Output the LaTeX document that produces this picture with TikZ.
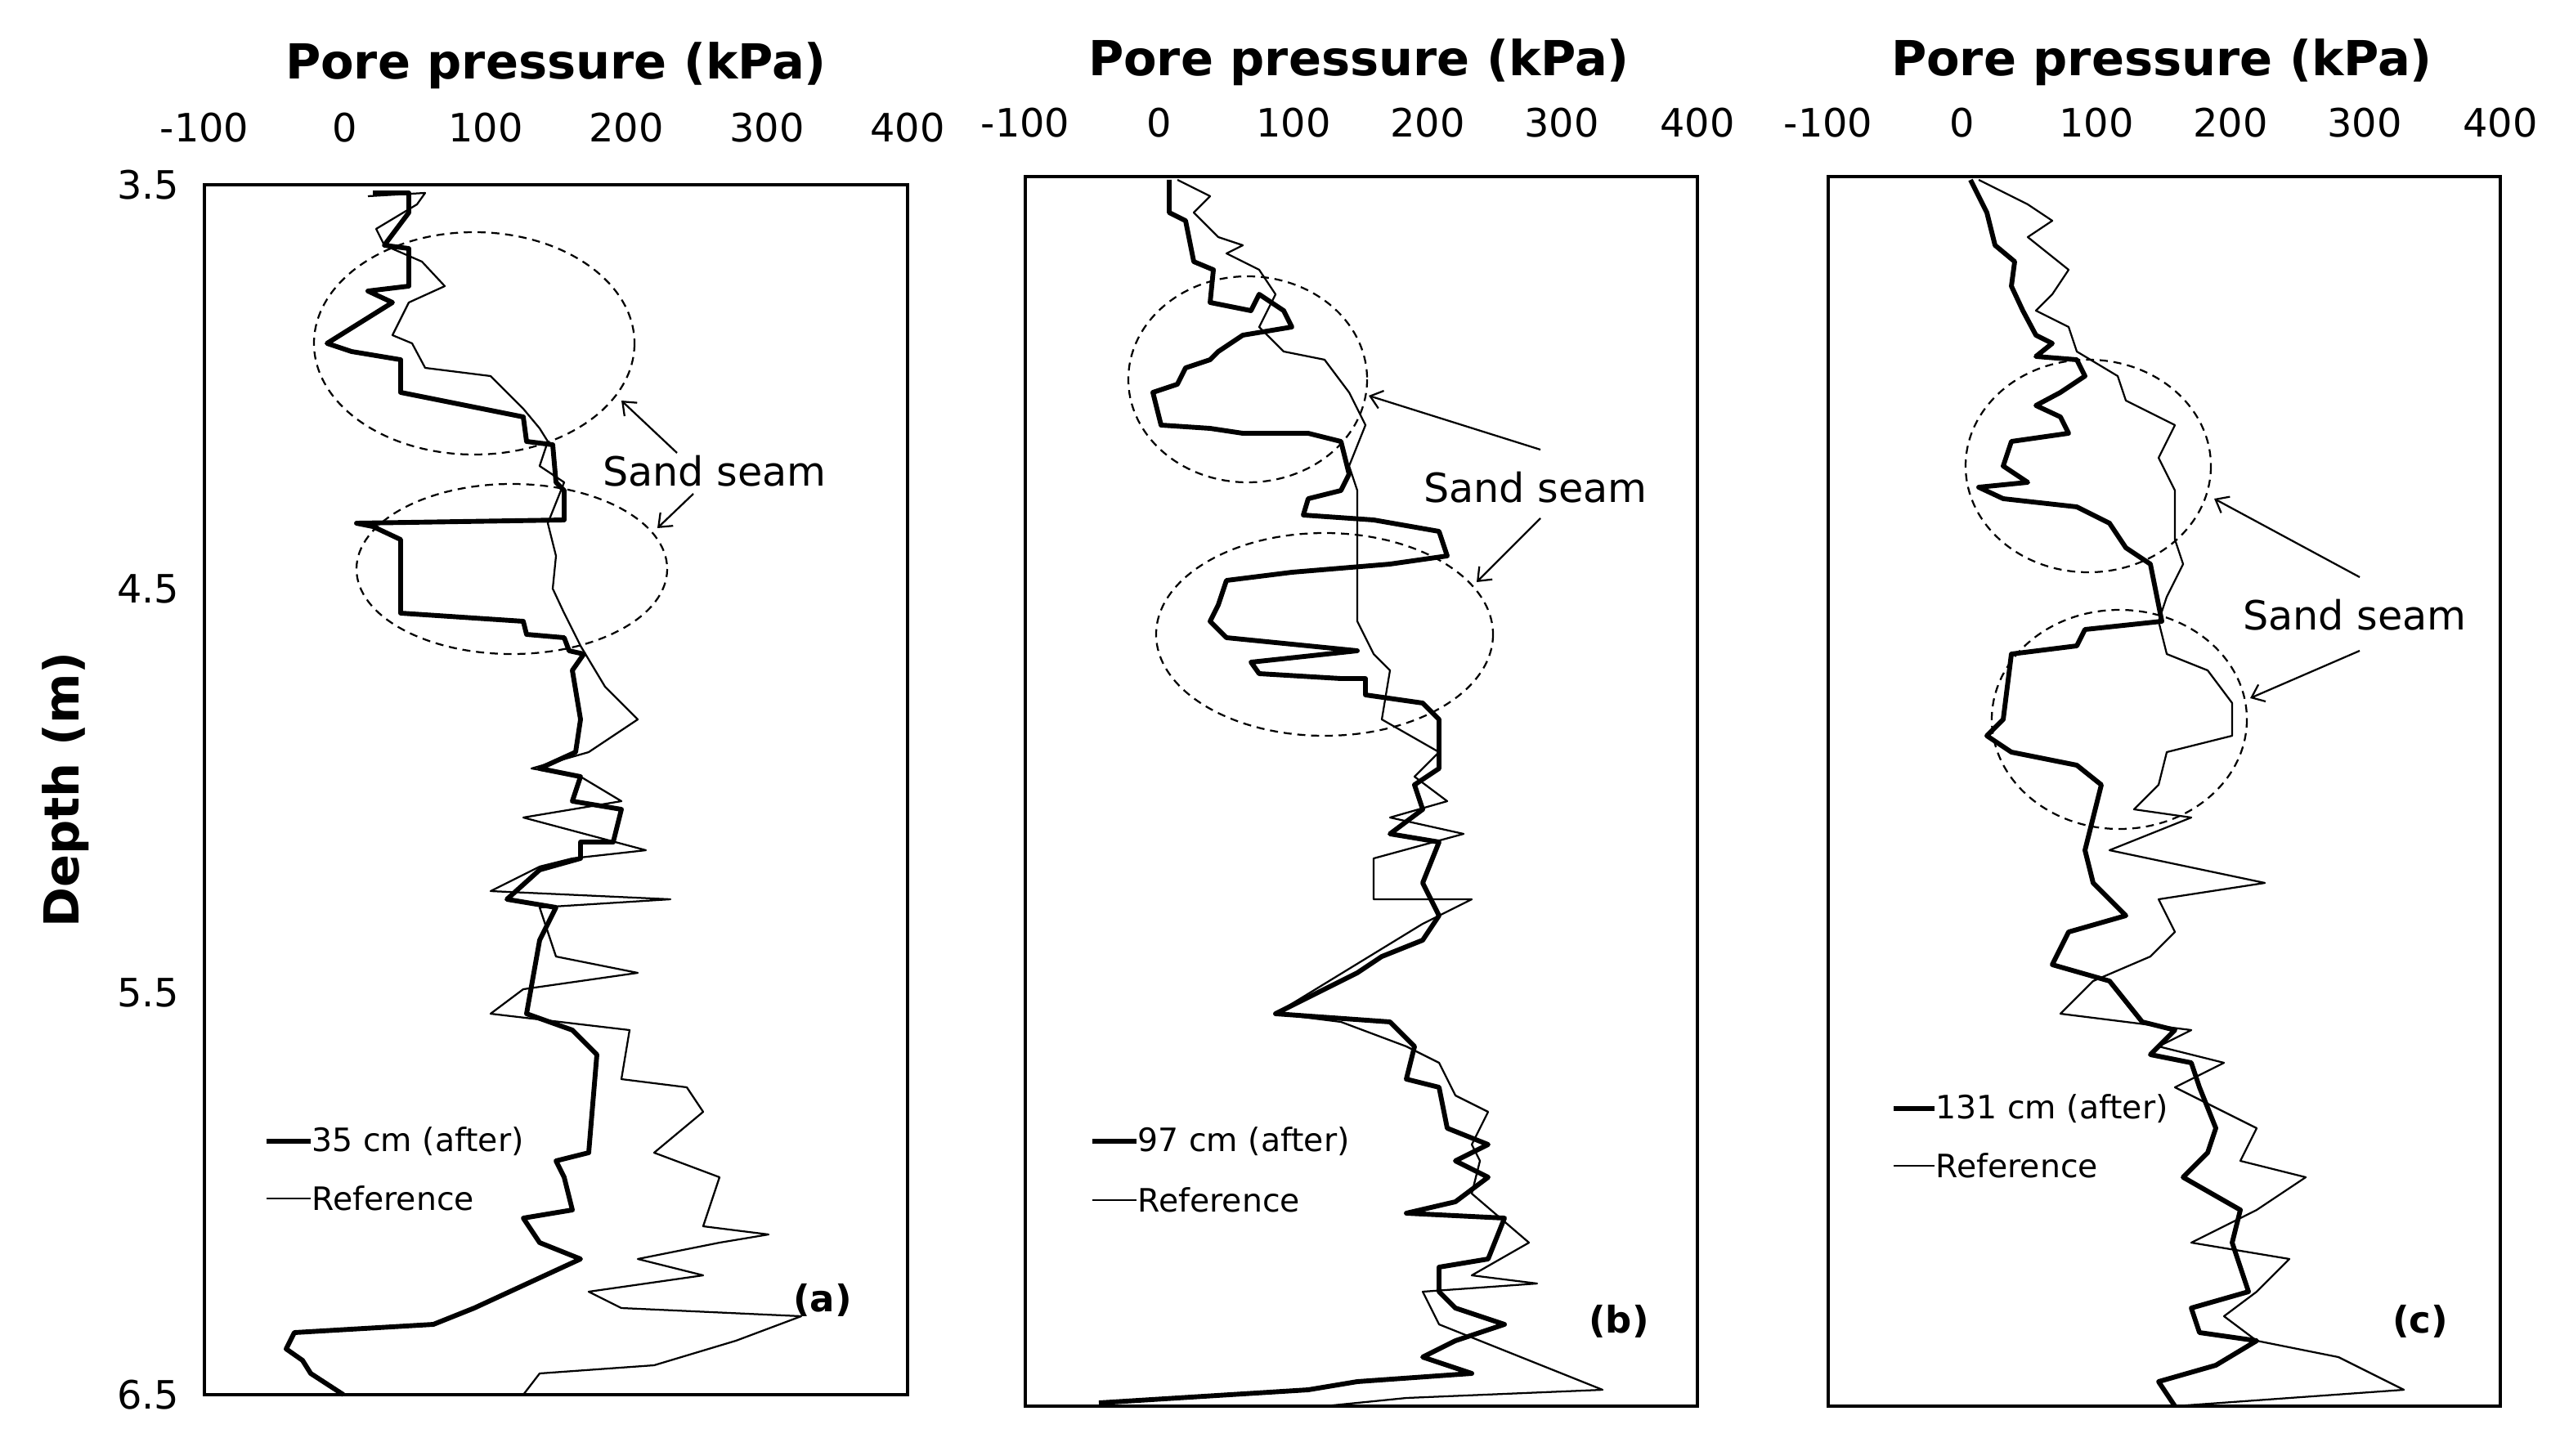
\documentclass[tikz,border=0pt]{standalone}
\usepackage{fontspec}
\setmainfont{DejaVu Sans}
\usetikzlibrary{arrows.meta}
\begin{document}
\begin{tikzpicture}[x=0.05cm,y=-0.05cm,
 thick/.style={line width=4.2pt,line join=round},
 thin/.style={line width=1.6pt,line join=round},
 box/.style={line width=2.6pt},
 seam/.style={line width=1.6pt,dash pattern=on 7pt off 5pt},
 tick/.style={font=\fontsize{34}{36}\selectfont},
 ttl/.style={font=\fontsize{42}{46}\selectfont\bfseries},
 leg/.style={font=\fontsize{28}{30}\selectfont,anchor=west,inner sep=1pt},
 lab/.style={font=\fontsize{35}{38}\selectfont},
 pl/.style={font=\fontsize{32}{34}\selectfont\bfseries},
 arr/.style={-{Straight Barb[length=10pt,width=16pt,line width=1.6pt]},line width=1.6pt}]
\useasboundingbox (0,0) rectangle (1571,890.5);
% ---------- panel a
\draw[box] (125,113) rectangle (555,853);
\node[ttl] (ta) at (340,40) {Pore pressure (kPa)};
\foreach \v/\x in {-100/125,0/211,100/297,200/383,300/469,400/555}
  \node[tick] at (\x,78) {\v};
\foreach \v/\y in {3.5/113,4.5/360,5.5/607,6.5/853}
  \node[tick,anchor=east] at (112,\y) {\v};
\node[ttl,rotate=90] (dep) at (40,483) {Depth (m)};
\draw[thin] (225,120)--(260,118)--(255,125)--(230,140)--(235,150)--(258,160)--(272,175)--(250,185)--(240,205)--(252,210)--(260,225)--(300,230)--(310,240)--(320,250)--(330,262)--(335,270)--(330,285)--(345,295)--(335,320)--(340,340)--(338,360)--(345,375)--(355,395)--(370,420)--(390,440)--(360,460)--(325,470)--(355,475)--(380,490)--(320,500)--(395,520)--(350,525)--(330,530)--(300,545)--(410,550)--(330,555)--(340,585)--(390,595)--(320,605)--(300,620)--(385,630)--(380,660)--(420,665)--(430,680)--(400,705)--(440,720)--(430,750)--(470,755)--(440,760)--(390,770)--(430,780)--(360,790)--(380,800)--(490,805)--(450,820)--(400,835)--(330,840)--(320,853);
\draw[thick] (228,118)--(250,118)--(250,130)--(235,150)--(250,152)--(250,175)--(225,178)--(240,185)--(200,210)--(215,215)--(245,220)--(245,240)--(320,255)--(322,270)--(338,272)--(340,295)--(345,300)--(345,318)--(218,320)--(228,322)--(245,330)--(245,375)--(320,380)--(322,388)--(345,390)--(348,398)--(357,400)--(350,410)--(355,440)--(352,460)--(330,470)--(355,475)--(350,490)--(380,495)--(375,515)--(355,515)--(355,525)--(330,532)--(310,550)--(340,555)--(330,575)--(322,620)--(350,630)--(365,645)--(360,705)--(340,710)--(345,720)--(350,740)--(320,745)--(330,760)--(355,770)--(290,800)--(265,810)--(180,815)--(175,825)--(185,832)--(190,840)--(210,853);
\draw[seam] (290,210) ellipse [x radius=98,y radius=68];
\draw[seam] (313,348) ellipse [x radius=95,y radius=52];
\node[lab] (sa) at (437,288) {Sand seam};
\coordinate (sa0) at (414,277); \coordinate (sa1) at (380,245);
\coordinate (sa3) at (424,302); \coordinate (sa2) at (402,323);
\draw[arr] (sa0) -- (sa1);
\draw[arr] (sa3) -- (sa2);
\coordinate (la1) at (163,698); \coordinate (la2) at (190,698);
\draw[thick] (la1)--(la2); \node[leg] at (la2) {35 cm (after)};
\coordinate (la3) at (163,733); \coordinate (la4) at (190,733);
\draw[thin] (la3)--(la4); \node[leg] at (la4) {Reference};
\node[pl] at (503,795) {(a)};
% ---------- panel b
\draw[box] (627,108) rectangle (1038,860);
\node[ttl] (tb) at (831,38) {Pore pressure (kPa)};
\foreach \v/\x in {-100/627,0/709,100/791,200/873,300/955,400/1038}
  \node[tick] at (\x,75) {\v};
\draw[thin] (720,110)--(740,120)--(730,130)--(745,145)--(760,150)--(750,155)--(770,165)--(780,180)--(770,200)--(785,215)--(810,220)--(825,240)--(835,260)--(825,285)--(830,300)--(830,340)--(830,380)--(840,400)--(850,410)--(845,440)--(880,460)--(865,475)--(885,490)--(850,500)--(895,510)--(840,525)--(840,550)--(900,550)--(870,565)--(780,620)--(820,625)--(860,640)--(880,650)--(890,670)--(910,680)--(900,700)--(905,710)--(900,730)--(935,760)--(900,780)--(940,785)--(870,790)--(880,810)--(930,830)--(980,850)--(860,855)--(810,860);
\draw[thick] (715,110)--(715,130)--(725,135)--(730,160)--(742,165)--(740,185)--(765,190)--(770,180)--(785,190)--(790,200)--(760,205)--(745,215)--(740,220)--(725,225)--(720,235)--(705,240)--(710,260)--(740,262)--(760,265)--(800,265)--(820,270)--(825,290)--(820,300)--(800,305)--(797,315)--(840,318)--(880,325)--(885,340)--(850,345)--(790,350)--(750,355)--(745,370)--(740,380)--(750,390)--(800,395)--(830,398)--(765,405)--(770,412)--(820,415)--(835,415)--(835,425)--(870,430)--(880,440)--(880,470)--(865,480)--(870,495)--(850,510)--(880,515)--(870,540)--(880,560)--(870,575)--(845,585)--(830,595)--(780,620)--(850,625)--(865,640)--(860,660)--(880,665)--(885,690)--(910,700)--(890,710)--(910,720)--(890,735)--(860,742)--(920,745)--(910,770)--(880,775)--(880,790)--(890,800)--(920,810)--(890,820)--(870,830)--(900,840)--(830,845)--(800,850)--(672,858);
\draw[seam] (763,232) ellipse [x radius=73,y radius=63];
\draw[seam] (810,388) ellipse [x radius=103,y radius=62];
\node[lab] (sb) at (939,298) {Sand seam};
\coordinate (sb0) at (942,275); \coordinate (sb1) at (837,242);
\coordinate (sb3) at (942,317); \coordinate (sb2) at (903,356);
\draw[arr] (sb0) -- (sb1);
\draw[arr] (sb3) -- (sb2);
\coordinate (lb1) at (668,698); \coordinate (lb2) at (695,698);
\draw[thick] (lb1)--(lb2); \node[leg] at (lb2) {97 cm (after)};
\coordinate (lb3) at (668,734); \coordinate (lb4) at (695,734);
\draw[thin] (lb3)--(lb4); \node[leg] at (lb4) {Reference};
\node[pl] at (990,808) {(b)};
% ---------- panel c
\draw[box] (1118,108) rectangle (1529,860);
\node[ttl] (tc) at (1322,38) {Pore pressure (kPa)};
\foreach \v/\x in {-100/1118,0/1200,100/1282,200/1364,300/1446,400/1529}
  \node[tick] at (\x,75) {\v};
\draw[thin] (1210,110)--(1230,120)--(1240,125)--(1255,135)--(1240,145)--(1265,165)--(1255,180)--(1245,190)--(1265,200)--(1270,215)--(1295,230)--(1300,245)--(1330,260)--(1320,280)--(1330,300)--(1330,330)--(1335,345)--(1325,365)--(1320,380)--(1325,400)--(1350,410)--(1365,430)--(1365,450)--(1325,460)--(1320,480)--(1305,495)--(1340,500)--(1290,520)--(1385,540)--(1320,550)--(1330,570)--(1315,585)--(1280,600)--(1260,620)--(1340,630)--(1320,640)--(1360,650)--(1330,665)--(1380,690)--(1370,710)--(1410,720)--(1380,740)--(1340,760)--(1400,770)--(1380,790)--(1360,805)--(1380,820)--(1430,830)--(1470,850)--(1400,855)--(1330,860);
\draw[thick] (1205,110)--(1215,130)--(1220,150)--(1232,160)--(1230,175)--(1237,190)--(1245,205)--(1255,210)--(1245,218)--(1270,220)--(1275,230)--(1260,240)--(1245,248)--(1260,255)--(1265,265)--(1230,270)--(1225,285)--(1240,295)--(1210,298)--(1225,305)--(1270,310)--(1290,320)--(1300,335)--(1315,345)--(1318,360)--(1322,380)--(1275,385)--(1270,395)--(1230,400)--(1225,440)--(1215,450)--(1230,460)--(1270,468)--(1285,480)--(1280,500)--(1275,520)--(1280,540)--(1300,560)--(1265,570)--(1255,590)--(1290,600)--(1310,625)--(1330,630)--(1315,645)--(1340,650)--(1345,665)--(1355,690)--(1350,705)--(1335,720)--(1370,740)--(1365,760)--(1375,790)--(1340,800)--(1345,815)--(1380,820)--(1355,835)--(1320,845)--(1330,860);
\draw[seam] (1277,285) ellipse [x radius=75,y radius=65];
\draw[seam] (1296,440) ellipse [x radius=78,y radius=67];
\node[lab] (sc) at (1440,376) {Sand seam};
\coordinate (sc0) at (1443,353); \coordinate (sc1) at (1354,305);
\coordinate (sc3) at (1443,398); \coordinate (sc2) at (1376,427);
\draw[arr] (sc0) -- (sc1);
\draw[arr] (sc3) -- (sc2);
\coordinate (lc1) at (1158,678); \coordinate (lc2) at (1183,678);
\draw[thick] (lc1)--(lc2); \node[leg] at (lc2) {131 cm (after)};
\coordinate (lc3) at (1158,713); \coordinate (lc4) at (1183,713);
\draw[thin] (lc3)--(lc4); \node[leg] at (lc4) {Reference};
\node[pl] at (1480,808) {(c)};
\end{tikzpicture}
\end{document}
